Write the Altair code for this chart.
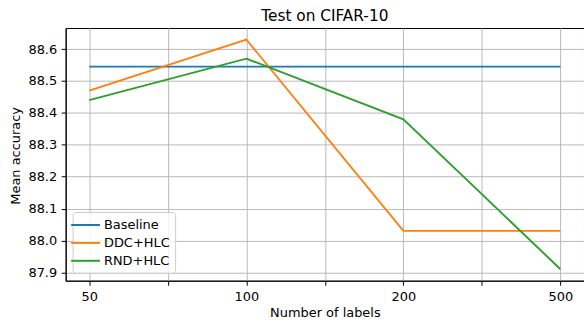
import json
import altair as alt
import pandas as pd

# ---- data ----
x_labels = ["50", "100", "200", "500"]
series = ["Baseline", "DDC+HLC", "RND+HLC"]
baseline = [88.545, 88.545, 88.545, 88.545]
ddc_hlc = [88.47, 88.63, 88.03, 88.03]
rnd_hlc = [88.44, 88.57, 88.38, 87.91]
colors = ["#1f77b4", "#ff7f0e", "#2ca02c"]
y_ticks = [87.9, 88.0, 88.1, 88.2, 88.3, 88.4, 88.5, 88.6]
x_ticks = [0, 0.5, 1, 1.5, 2, 2.5, 3]

rows = []
for name, vals in zip(series, [baseline, ddc_hlc, rnd_hlc]):
    for i, v in enumerate(vals):
        rows.append({"idx": i, "label": x_labels[i], "series": name, "acc": v})
df = pd.DataFrame(rows)

FONT = "DejaVu Sans"
FS = 13
label_expr = "datum.value % 1 == 0 ? " + json.dumps(x_labels) + "[datum.value] : ''"

chart = alt.Chart(df).mark_line(strokeWidth=1.9).encode(
    x=alt.X(
        "idx:Q",
        scale=alt.Scale(domain=[-0.15, 3.15], nice=False, zero=False),
        axis=alt.Axis(
            values=x_ticks,
            labelExpr=label_expr,
            title="Number of labels",
            titleX=260.5,
            titleY=36,
            titleBaseline="alphabetic",
            titleAnchor="middle",
            labelPadding=5,
            labelFlush=False,
        ),
    ),
    y=alt.Y(
        "acc:Q",
        scale=alt.Scale(domain=[87.874, 88.666], nice=False, zero=False),
        axis=alt.Axis(
            values=y_ticks,
            format=".1f",
            title="Mean accuracy",
            titleX=-46.5,
            titleY=128,
            titleAngle=-90,
            titleAlign="center",
            titleBaseline="alphabetic",
            labelPadding=4.5,
        ),
    ),
    color=alt.Color(
        "series:N",
        scale=alt.Scale(domain=series, range=colors),
        legend=alt.Legend(
            title=None,
            orient="none",
            legendX=7,
            legendY=185,
            symbolType="M-2,0H2",
            symbolSize=210,
            symbolStrokeWidth=2,
            labelFont=FONT,
            labelFontSize=FS,
            labelColor="black",
            labelOffset=10,
            padding=4.5,
            rowPadding=2,
            fillColor="rgba(255,255,255,0.8)",
            strokeColor="#cccccc",
            cornerRadius=3,
        ),
    ),
).properties(
    width=521,
    height=254,
    background="white",
    title=alt.Title(
        "Test on CIFAR-10",
        font=FONT,
        fontSize=15.4,
        fontWeight="normal",
        color="black",
        anchor="middle",
        baseline="alphabetic",
        offset=8,
        dy=16,
        frame="group",
    ),
    autosize="none",
    padding={"left": 66, "top": 27.3, "right": 0, "bottom": 46},
).configure_view(
    stroke="black", strokeWidth=1
).configure_axis(
    grid=True,
    gridColor="#b8b8b8",
    gridWidth=1,
    domainColor="black",
    domainWidth=1,
    tickColor="black",
    tickWidth=1,
    tickSize=4.5,
    labelFont=FONT,
    labelFontSize=FS,
    labelColor="black",
    titleFont=FONT,
    titleFontSize=FS,
    titleFontWeight="normal",
    titleColor="black",
)

chart.save("out.html", embed_options={"renderer": "svg", "actions": False})
